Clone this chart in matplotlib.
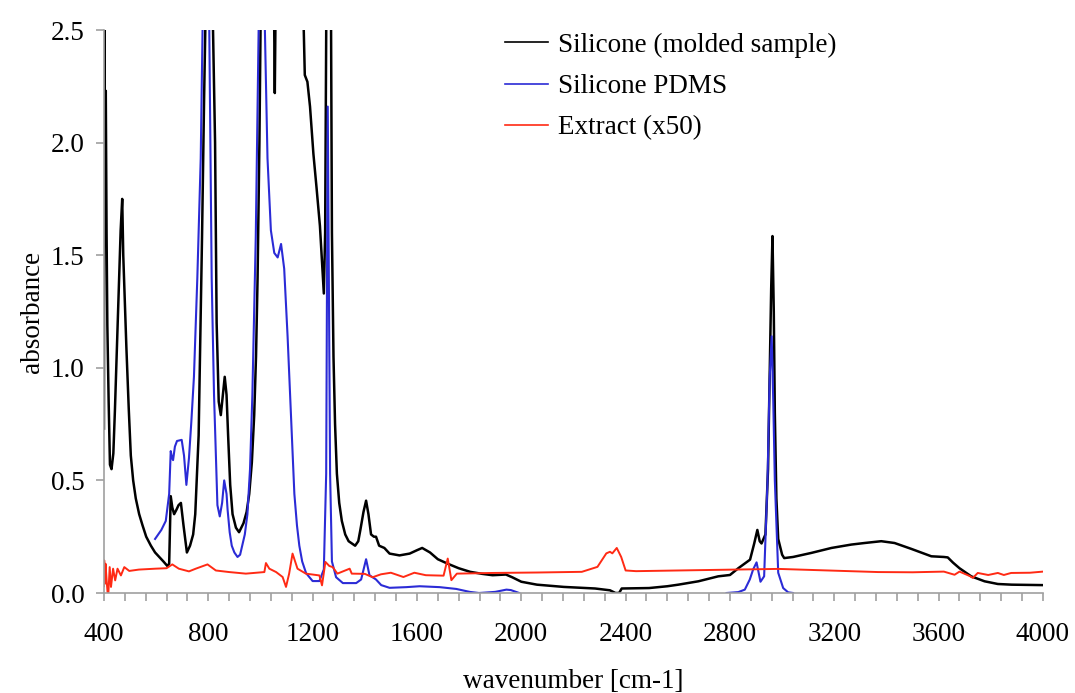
import numpy as np
import matplotlib
matplotlib.use('Agg')
import matplotlib.pyplot as plt
from matplotlib.ticker import MultipleLocator

plt.rcParams['font.family'] = ['Liberation Serif', 'DejaVu Serif']

# Silicone (molded sample) - 读图估计, >2.5 的部分被裁掉
black_wn = [400, 402, 404, 407, 410, 413, 418, 423, 429, 436, 442, 455, 464, 470, 474, 477,
            486, 495, 503, 512, 522, 535, 548, 562, 580, 596, 612, 628, 643, 650, 656, 662,
            669, 678, 686, 695, 705, 718, 730, 742, 750, 763, 776, 784, 790, 800, 815, 826,
            832, 840, 848, 856, 863, 870, 876, 884, 893, 906, 918, 935, 947, 957, 967, 976,
            983, 989, 996, 1002, 1040, 1052, 1055, 1058, 1100, 1160, 1170, 1180, 1190, 1203,
            1215, 1228, 1243, 1248, 1253, 1262, 1270, 1274, 1280, 1286, 1293, 1302, 1312,
            1325, 1338, 1363, 1375, 1383, 1395, 1405, 1414, 1424, 1435, 1443, 1455, 1475,
            1495, 1533, 1572, 1600, 1620, 1650, 1680, 1718, 1760, 1804, 1850, 1890, 1941,
            1965, 2000, 2060, 2163, 2283, 2340, 2361, 2375, 2385, 2490, 2560, 2602, 2679,
            2755, 2800, 2832, 2877, 2893, 2905, 2914, 2921, 2936, 2946, 2952, 2958, 2963,
            2968, 2972, 2978, 2985, 3000, 3008, 3042, 3112, 3189, 3265, 3316, 3380, 3431,
            3495, 3572, 3620, 3635, 3655, 3680, 3725, 3776, 3827, 3880, 4000]
black_abs = [0.73, 2.7, 1.6, 2.23, 1.6, 1.19, 0.85, 0.57, 0.55, 0.62, 0.81, 1.28, 1.61, 1.75, 1.5, 1.40,
             1.09, 0.82, 0.61, 0.50, 0.42, 0.35, 0.30, 0.25, 0.21, 0.18, 0.16, 0.14, 0.12, 0.13, 0.43, 0.38,
             0.35, 0.37, 0.39, 0.40, 0.30, 0.18, 0.21, 0.26, 0.35, 0.70, 1.58, 2.2, 2.6, 2.9, 2.7, 2.0,
             1.2, 0.85, 0.79, 0.88, 0.96, 0.88, 0.70, 0.48, 0.35, 0.29, 0.27, 0.31, 0.36, 0.44, 0.58, 0.79,
             1.05, 1.40, 2.0, 2.7, 2.9, 2.6, 2.22, 2.6, 2.9, 2.8, 2.3, 2.27, 2.16, 1.95,
             1.80, 1.63, 1.33, 1.6, 2.7, 2.9, 2.7, 1.6, 1.05, 0.75, 0.53, 0.40, 0.32,
             0.26, 0.23, 0.21, 0.23, 0.28, 0.36, 0.41, 0.35, 0.26, 0.25, 0.25, 0.21, 0.20,
             0.175, 0.167, 0.175, 0.19, 0.20, 0.18, 0.15, 0.13, 0.11, 0.094, 0.085, 0.079, 0.082,
             0.07, 0.05, 0.037, 0.027, 0.02, 0.012, 0.0, 0.0, 0.02, 0.022, 0.03, 0.037, 0.052,
             0.074, 0.08, 0.11, 0.148, 0.22, 0.28, 0.23, 0.22, 0.26, 0.55, 0.95, 1.35, 1.585,
             1.25, 0.8, 0.42, 0.24, 0.17, 0.155, 0.16, 0.178, 0.2, 0.215, 0.222, 0.23, 0.222,
             0.196, 0.163, 0.16, 0.158, 0.135, 0.11, 0.074, 0.052, 0.04, 0.037, 0.035]

# Silicone PDMS (nan = 中间没有数据)
pdms_wn = [596, 620, 637, 650, 656, 661, 665, 672, 680, 698, 707, 716, 726, 735, 745, 758, 771,
           778, 785, 795, 803, 813, 822, 835, 844, 853, 861, 870, 874, 882, 890, 900, 912, 922,
           930, 940, 950, 960, 969, 982, 993, 1005, 1017, 1027, 1040, 1053, 1066, 1079, 1091,
           1104, 1117, 1130, 1140, 1149, 1160, 1175, 1200, 1226, 1243, 1252, 1258, 1267, 1274,
           1290, 1316, 1367, 1386, 1405, 1418, 1443, 1463, 1495, 1559, 1610, 1687, 1751, 1802,
           1838, 1900, 1943, 1960, 1992,
           2400,
           2787, 2832, 2857, 2876, 2889, 2902, 2917, 2931, 2944, 2952, 2960, 2966, 2972, 2985,
           3004, 3023, 3042]
pdms_abs = [0.24, 0.28, 0.32, 0.44, 0.63, 0.60, 0.59, 0.65, 0.675, 0.68, 0.61, 0.48, 0.6, 0.76, 0.96, 1.40, 1.93,
            2.5, 2.9, 3.2, 2.6, 1.40, 0.88, 0.39, 0.34, 0.40, 0.50, 0.44, 0.37, 0.27, 0.21, 0.18, 0.16, 0.17,
            0.21, 0.26, 0.35, 0.55, 0.88, 1.58, 2.5, 3.0, 2.5, 1.93, 1.61, 1.51, 1.49, 1.55, 1.44,
            1.14, 0.79, 0.44, 0.30, 0.21, 0.14, 0.088, 0.053, 0.053, 0.105, 0.53, 2.16, 0.53, 0.14,
            0.07, 0.044, 0.044, 0.06, 0.15, 0.079, 0.06, 0.035, 0.023, 0.026, 0.03, 0.026, 0.018, 0.005,
            0.0, 0.005, 0.015, 0.013, 0.0,
            np.nan,
            0.0, 0.004, 0.015, 0.06, 0.105, 0.136, 0.05, 0.074, 0.5, 0.95, 1.14, 0.85, 0.5, 0.09,
            0.022, 0.003, 0.0]

# Extract (x50)
extract_wn = [400, 401, 403, 406, 410, 414, 417, 422, 427, 435, 443, 452, 465, 478, 497, 534,
              598, 640, 662, 687, 726, 752, 797, 829, 880, 944, 1015, 1021, 1034, 1060, 1085,
              1098, 1110, 1123, 1142, 1174, 1226, 1236, 1249, 1264, 1277, 1295, 1342, 1350,
              1400, 1430, 1462, 1500, 1548, 1590, 1634, 1702, 1718, 1732, 1753, 1890, 2061,
              2232, 2292, 2326, 2340, 2349, 2366, 2383, 2400, 2440, 2600, 2985, 3368, 3500,
              3620, 3661, 3680, 3720, 3731, 3750, 3790, 3827, 3850, 3878, 3950, 4000]
extract_abs = [0.03, 0.145, 0.04, 0.13, 0.06, 0.0, 0.0, 0.115, 0.027, 0.108, 0.056, 0.108, 0.078, 0.115, 0.098, 0.104,
               0.108, 0.11, 0.127, 0.108, 0.096, 0.108, 0.127, 0.1, 0.093, 0.086, 0.093, 0.133, 0.108, 0.093, 0.071,
               0.027, 0.086, 0.175, 0.108, 0.086, 0.078, 0.034, 0.138, 0.12, 0.115, 0.086, 0.108, 0.086,
               0.085, 0.07, 0.083, 0.09, 0.071, 0.09, 0.079, 0.077, 0.153, 0.057, 0.086, 0.089, 0.091,
               0.094, 0.116, 0.176, 0.183, 0.176, 0.2, 0.16, 0.1, 0.097, 0.1, 0.107, 0.093, 0.092,
               0.095, 0.081, 0.095, 0.075, 0.067, 0.089, 0.08, 0.089, 0.08, 0.089, 0.09, 0.095]

fig = plt.figure(figsize=(10.75, 6.93), dpi=100)
ax = fig.add_axes([0.0967, 0.1443, 0.8735, 0.8124])

ax.plot(black_wn, black_abs, color='black', lw=1.8, label='Silicone (molded sample)')
ax.plot(pdms_wn, pdms_abs, color='#2b2bd6', lw=1.5, label='Silicone PDMS')
ax.plot(extract_wn, extract_abs, color='#ff2a14', lw=1.4, label='Extract (x50)')

ax.set_xlim(400, 4000)
ax.set_ylim(0, 2.5)
ax.xaxis.set_major_locator(MultipleLocator(400))
ax.xaxis.set_minor_locator(MultipleLocator(80))
ax.yaxis.set_major_locator(MultipleLocator(0.5))
ax.yaxis.set_major_formatter(plt.FormatStrFormatter('%.1f'))

for s in ['top', 'right']:
    ax.spines[s].set_visible(False)
for s in ['left', 'bottom']:
    ax.spines[s].set_color('#a0a0a0')
    ax.spines[s].set_linewidth(1.2)
ax.tick_params(which='both', direction='out', color='#a0a0a0', length=6, width=1.2,
               labelsize=19.5)
ax.tick_params(axis='x', which='both', pad=15)
ax.tick_params(axis='y', pad=8)

ax.set_xlabel('wavenumber [cm-1]', fontsize=19.5, labelpad=16)
ax.set_ylabel('absorbance', fontsize=19.5, labelpad=4)

leg = ax.legend(loc='upper left', bbox_to_anchor=(0.427, 0.995), frameon=False,
                fontsize=19.5, handlelength=1.6, handletextpad=0.35, labelspacing=0.6,
                borderpad=0, borderaxespad=0)
for line in leg.get_lines():
    line.set_linewidth(1.2)

fig.savefig('out.png', dpi=100)
